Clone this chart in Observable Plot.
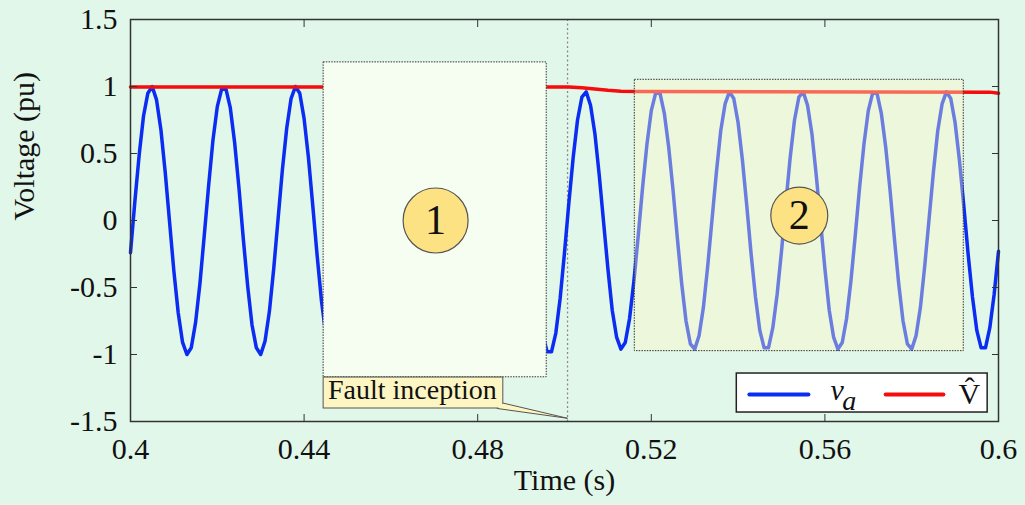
<!DOCTYPE html>
<html>
<head>
<meta charset="utf-8">
<script src="https://cdn.jsdelivr.net/npm/d3@7"></script>
<script src="https://cdn.jsdelivr.net/npm/@observablehq/plot@0.6"></script>
<style>
html, body { margin: 0; padding: 0; background: #e1f7e9; }
#chart svg { display: block; }
</style>
</head>
<body>
<div id="chart"></div>
<script>
// ---- data ----
const timeStart = 0.4;
const timeStep = 0.001; // one sample per millisecond
// phase voltage v_a (pu), samples from t = 0.400 s to t = 0.600 s
const vaValues = [
  -0.24, 0.14, 0.49, 0.78, 0.95, 1.00, 0.90, 0.68, 0.36, -0.01, -0.38, -0.69, -0.91, -1.00, -0.95, -0.76, -0.47, -0.11, 0.26, 0.60, 0.85, 0.98, 0.98, 0.84, 0.58,
  0.24, -0.14, -0.49, -0.78, -0.95, -1.00, -0.90, -0.68, -0.36, 0.01, 0.38, 0.69, 0.91, 1.00, 0.95, 0.76, 0.47, 0.11, -0.26, -0.60, -0.85, -0.98, -0.98, -0.84, -0.58,
  -0.24, 0.14, 0.49, 0.78, 0.95, 1.00, 0.90, 0.68, 0.36, -0.01, -0.38, -0.69, -0.91, -1.00, -0.95, -0.76, -0.47, -0.11, 0.26, 0.60, 0.85, 0.98, 0.98, 0.84, 0.58,
  0.24, -0.14, -0.49, -0.78, -0.95, -1.00, -0.90, -0.68, -0.36, 0.01, 0.38, 0.69, 0.91, 1.00, 0.95, 0.76, 0.47, 0.11, -0.26, -0.60, -0.85, -0.98, -0.98, -0.84, -0.58,
  -0.24, 0.13, 0.47, 0.75, 0.92, 0.96, 0.86, 0.65, 0.34, -0.01, -0.36, -0.67, -0.87, -0.96, -0.91, -0.73, -0.45, -0.11, 0.25, 0.57, 0.82, 0.95, 0.95, 0.80, 0.55,
  0.23, -0.13, -0.47, -0.75, -0.92, -0.96, -0.86, -0.65, -0.34, 0.01, 0.36, 0.67, 0.87, 0.96, 0.91, 0.73, 0.45, 0.11, -0.25, -0.57, -0.82, -0.95, -0.95, -0.80, -0.55,
  -0.23, 0.13, 0.47, 0.75, 0.92, 0.96, 0.86, 0.65, 0.34, -0.01, -0.36, -0.67, -0.87, -0.96, -0.91, -0.73, -0.45, -0.11, 0.25, 0.57, 0.82, 0.95, 0.95, 0.80, 0.55,
  0.23, -0.13, -0.47, -0.75, -0.92, -0.96, -0.86, -0.65, -0.34, 0.01, 0.36, 0.67, 0.87, 0.96, 0.91, 0.73, 0.45, 0.11, -0.25, -0.57, -0.82, -0.95, -0.95, -0.80, -0.55,
  -0.23
];
// estimated amplitude V-hat (pu)
const vhatTimes  = [0.400, 0.501, 0.504, 0.507, 0.510, 0.513, 0.517, 0.598, 0.600];
const vhatValues = [0.997, 0.997, 0.990, 0.982, 0.972, 0.965, 0.962, 0.958, 0.950];

const faultTime = 0.5007;

const xTicks = [0.4, 0.44, 0.48, 0.52, 0.56, 0.6];
const xTickLabels = ["0.4", "0.44", "0.48", "0.52", "0.56", "0.6"];
const yTicks = [-1.5, -1, -0.5, 0, 0.5, 1, 1.5];
const yTickLabels = ["-1.5", "-1", "-0.5", "0", "0.5", "1", "1.5"];

// highlighted regions (time, pu)
const region1 = {x1: 0.4445, x2: 0.4959, y1: -1.17, y2: 1.18};
const region2 = {x1: 0.5162, x2: 0.5920, y1: -0.975, y2: 1.05};
const badge1 = {x: 0.4703, y: 0.0, label: "1"};
const badge2 = {x: 0.5541, y: 0.037, label: "2"};

// callout
const calloutBox = {x1: 0.4445, x2: 0.4859, y1: -1.403, y2: -1.172};
const calloutTail = [{x: 0.4859, y: -1.363}, {x: 0.5007, y: -1.476}, {x: 0.4845, y: -1.403}];
const calloutText = {x: 0.4455, y: -1.262, label: "Fault inception"};

// legend
const legendBox = {x1: 0.5397, x2: 0.5975, y1: -1.433, y2: -1.142};
const legendBlue = [{x: 0.5426, y: -1.2985}, {x: 0.5562, y: -1.2985}];
const legendRed = [{x: 0.5740, y: -1.2985}, {x: 0.5873, y: -1.2985}];
const legendLabels = [
  {x: 0.5613, y: -1.27, label: "v", size: 30, style: "italic"},
  {x: 0.5640, y: -1.345, label: "a", size: 28, style: "italic"},
  {x: 0.5933, y: -1.30, label: "V\u0302", size: 30, style: "normal"}
];

// ---- build tables ----
const vaData = vaValues.map((v, i) => ({t: timeStart + i * timeStep, v}));
const vhatData = vhatTimes.map((t, i) => ({t, v: vhatValues[i]}));

const serif = "'Liberation Serif', 'Times New Roman', serif";
const frameColor = "#333";

const chart = Plot.plot({
  width: 1025,
  height: 505,
  marginLeft: 130,
  marginRight: 27,
  marginTop: 19,
  marginBottom: 84,
  style: {background: "transparent", fontFamily: serif, fontSize: "30px", color: "#111"},
  x: {domain: [0.4, 0.6], label: null},
  y: {domain: [-1.5, 1.5], label: null},
  marks: [
    Plot.ruleX([faultTime], {stroke: "#8a8a8a", strokeWidth: 1.3, strokeDasharray: "2,2.5"}),
    Plot.line(vaData, {x: "t", y: "v", stroke: "#0b2cf2", strokeWidth: 3.5, strokeLinejoin: "round"}),
    Plot.line(vhatData, {x: "t", y: "v", stroke: "#f50d0d", strokeWidth: 3.5}),
    Plot.rect([region1], {x1: "x1", x2: "x2", y1: "y1", y2: "y2", fill: "#f6fdf1", stroke: "#333", strokeWidth: 1, strokeDasharray: "1.5,1.2"}),
    Plot.rect([region2], {x1: "x1", x2: "x2", y1: "y1", y2: "y2", fill: "#fef7c6", fillOpacity: 0.4, stroke: "#333", strokeWidth: 1, strokeDasharray: "1.5,1.2"}),
    Plot.dot([badge1], {x: "x", y: "y", r: 32.5, fill: "#fde283", stroke: "#555", strokeWidth: 1.2}),
    Plot.dot([badge2], {x: "x", y: "y", r: 28.5, fill: "#fde283", stroke: "#555", strokeWidth: 1.2}),
    Plot.text([badge1, badge2], {x: "x", y: "y", text: "label", fontSize: 42, fill: "#111", fontFamily: serif}),
    // callout
    Plot.rect([calloutBox], {x1: "x1", x2: "x2", y1: "y1", y2: "y2", fill: "#fdf6c3", stroke: "#555", strokeWidth: 1}),
    Plot.line(calloutTail, {x: "x", y: "y", fill: "#fdf6c3", stroke: "#555", strokeWidth: 1}),
    Plot.text([calloutText], {x: "x", y: "y", text: "label", textAnchor: "start", fontSize: 28, fill: "#111", fontFamily: serif}),
    // legend
    Plot.rect([legendBox], {x1: "x1", x2: "x2", y1: "y1", y2: "y2", fill: "white", stroke: "#222", strokeWidth: 1.5}),
    Plot.line(legendBlue, {x: "x", y: "y", stroke: "#0b2cf2", strokeWidth: 4}),
    Plot.line(legendRed, {x: "x", y: "y", stroke: "#f50d0d", strokeWidth: 4}),
    Plot.text(legendLabels.slice(0, 2), {x: "x", y: "y", text: "label", textAnchor: "start", fontSize: d => d.size, fontStyle: "italic", fill: "#111", fontFamily: serif}),
    Plot.text(legendLabels.slice(2), {x: "x", y: "y", text: "label", fontSize: 30, fill: "#111", fontFamily: serif}),
    // axes
    Plot.axisX(xTicks, {anchor: "bottom", tickSize: -7, tickPadding: 23, stroke: frameColor, fontSize: 30, fill: "#111", tickFormat: d => xTickLabels[xTicks.indexOf(d)], label: null}),
    Plot.axisX(xTicks, {anchor: "top", tickSize: -7, stroke: frameColor, tickFormat: () => "", label: null}),
    Plot.axisY(yTicks, {anchor: "left", tickSize: -7, tickPadding: 20, stroke: frameColor, fontSize: 30, fill: "#111", tickFormat: d => yTickLabels[yTicks.indexOf(d)], label: null}),
    Plot.axisY(yTicks, {anchor: "right", tickSize: -7, stroke: frameColor, tickFormat: () => "", label: null}),
    Plot.frame({stroke: frameColor, strokeWidth: 1.5}),
    Plot.text(["Time (s)"], {frameAnchor: "bottom", dy: 68, text: d => d, fontSize: 30, fill: "#111", fontFamily: serif}),
    Plot.text(["Voltage (pu)"], {frameAnchor: "left", rotate: -90, dx: -106, text: d => d, fontSize: 30, fill: "#111", fontFamily: serif})
  ]
});
document.getElementById("chart").appendChild(chart);
</script>
</body>
</html>
